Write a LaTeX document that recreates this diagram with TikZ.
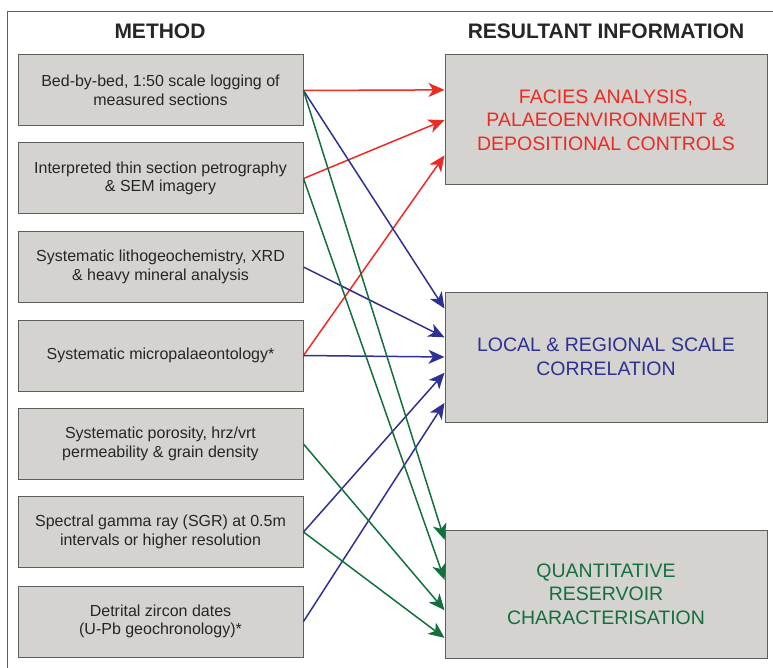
\documentclass[tikz,border=0pt]{standalone}
\usepackage{fontspec}
\setmainfont{Liberation Sans}
\usetikzlibrary{arrows.meta,calc}
\definecolor{boxgrey}{HTML}{D4D3D0}
\definecolor{edgegrey}{HTML}{5E5E5E}
\definecolor{inkgrey}{HTML}{262626}
\definecolor{faciesred}{HTML}{EE2A24}
\definecolor{corrblue}{HTML}{2E3192}
\definecolor{resgreen}{HTML}{13703E}
\begin{document}
\begin{tikzpicture}[x=1pt,y=-1pt,
  method/.style={draw=edgegrey, fill=boxgrey, line width=1pt, minimum width=285pt, minimum height=71pt, inner sep=0pt, align=center, text=inkgrey, font=\fontsize{16}{18.5}\selectfont},
  result/.style={draw=edgegrey, fill=boxgrey, line width=1pt, minimum width=322pt, minimum height=130pt, inner sep=0pt, align=center, font=\fontsize{19.5}{23.5}\selectfont},
  heading/.style={text=inkgrey, font=\bfseries\fontsize{21}{25}\selectfont},
  link/.style={line width=1.5pt, -{Stealth[length=16pt,width=14pt,inset=4.5pt]}}]
\useasboundingbox (0,0) rectangle (773,668);
% outer frame (runs off the page right and below)
\draw[edgegrey, line width=1pt] (7,668) -- (7,12) -- (773,12);

\node[heading] (hmethod) at (160,31) {METHOD};
\node[heading] (hresult) at (606,31) {RESULTANT INFORMATION};

% methods
\node[method] (m1) at (160.5,90.5) {Bed-by-bed, 1:50 scale logging of\\measured sections};
\node[method] (m2) at (160.5,178.5) {Interpreted thin section petrography\\\& SEM imagery};
\node[method] (m3) at (160.5,267) {Systematic lithogeochemistry, XRD\\\& heavy mineral analysis};
\node[method] (m4) at (160.5,355.5) {Systematic micropalaeontology*};
\node[method] (m5) at (160.5,444) {Systematic porosity, hrz/vrt\\permeability \& grain density};
\node[method] (m6) at (160.5,532) {Spectral gamma ray (SGR) at 0.5m\\intervals or higher resolution};
\node[method] (m7) at (160.5,621.5) {Detrital zircon dates\\(U-Pb geochronology)*};

% resultant information
\node[result, text=faciesred] (rfacies) at (606,120) {FACIES ANALYSIS,\\PALAEOENVIRONMENT \&\\DEPOSITIONAL CONTROLS};
\node[result, text=corrblue] (rcorr) at (606,357) {LOCAL \& REGIONAL SCALE\\CORRELATION};
\node[result, text=resgreen, minimum height=128pt] (rquant) at (606,594) {QUANTITATIVE\\RESERVOIR\\CHARACTERISATION};

% facies links
\draw[link, faciesred] (m1.east) -- ($(rfacies.north west)!0.27!(rfacies.south west)$);
\draw[link, faciesred] (m2.east) -- ($(rfacies.north west)!0.5!(rfacies.south west)$);
\draw[link, faciesred] (m4.east) -- ($(rfacies.north west)!0.77!(rfacies.south west)$);

% correlation links
\draw[link, corrblue] (m1.east) -- ($(rcorr.north west)!0.13!(rcorr.south west)$);
\draw[link, corrblue] (m3.east) -- ($(rcorr.north west)!0.35!(rcorr.south west)$);
\draw[link, corrblue] (m4.east) -- ($(rcorr.north west)!0.5!(rcorr.south west)$);
\draw[link, corrblue] (m6.east) -- ($(rcorr.north west)!0.62!(rcorr.south west)$);
\draw[link, corrblue] (m7.east) -- ($(rcorr.north west)!0.85!(rcorr.south west)$);

% reservoir links
\draw[link, resgreen] (m1.east) -- ($(rquant.north west)!0.08!(rquant.south west)$);
\draw[link, resgreen] (m2.east) -- ($(rquant.north west)!0.39!(rquant.south west)$);
\draw[link, resgreen] (m5.east) -- ($(rquant.north west)!0.625!(rquant.south west)$);
\draw[link, resgreen] (m6.east) -- ($(rquant.north west)!0.84!(rquant.south west)$);

\end{tikzpicture}
\end{document}
